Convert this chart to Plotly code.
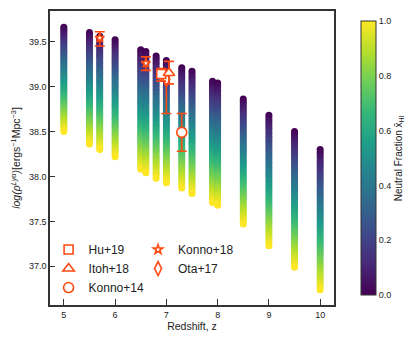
import numpy as np
import plotly.graph_objects as go

# ---- model columns ----
z_model = [5.0, 5.5, 5.7, 6.0, 6.5, 6.6, 6.8, 7.0, 7.3, 7.5, 7.9, 8.0, 8.5, 9.0, 9.5, 10.0]
logrho_xhi0 = [39.66, 39.60, 39.56, 39.52, 39.41, 39.39, 39.34, 39.29, 39.21, 39.17,
               39.06, 39.04, 38.86, 38.68, 38.50, 38.30]
logrho_xhi1 = [38.50, 38.36, 38.30, 38.22, 38.08, 38.04, 37.98, 37.93, 37.87, 37.81,
               37.71, 37.68, 37.47, 37.23, 36.99, 36.74]
xhi_grid = np.linspace(0.0, 1.0, 51)

# ---- observations ----
hu19_z = [6.9]; hu19_y = [39.14]; hu19_up = [0.06]; hu19_dn = [0.08]
itoh18_z = [7.05]; itoh18_y = [39.15]; itoh18_up = [0.13]; itoh18_dn = [0.12]
konno14_z = [7.3]; konno14_y = [38.49]; konno14_up = [0.21]; konno14_dn = [0.21]
konno18_z = [5.7, 6.6]; konno18_y = [39.54, 39.26]; konno18_up = [0.07, 0.07]; konno18_dn = [0.09, 0.08]
ota17_z = [7.0]; ota17_y = [39.08]; ota17_up = [0.10]; ota17_dn = [0.38]

x_ticks = [5, 6, 7, 8, 9, 10]
y_ticks = [37.0, 37.5, 38.0, 38.5, 39.0, 39.5]
cb_ticks = [0.0, 0.2, 0.4, 0.6, 0.8, 1.0]

OBS = "#ff4a12"
FONT = "Liberation Sans, Arial, sans-serif"

fig = go.Figure()

xs, ys, cs = [], [], []
for z, top, bot in zip(z_model, logrho_xhi0, logrho_xhi1):
    for x in xhi_grid:
        xs.append(z)
        ys.append(top + (bot - top) * x)
        cs.append(x)

fig.add_trace(go.Scatter(
    x=xs, y=ys, mode="markers", showlegend=False, hoverinfo="skip",
    marker=dict(size=7, color=cs, colorscale="Viridis", cmin=0, cmax=1,
                line=dict(width=0),
                colorbar=dict(
                    x=1.06, xanchor="left", y=0.5, yanchor="middle", len=1.0,
                    thickness=15, outlinewidth=1, outlinecolor="#333",
                    tickvals=cb_ticks, ticktext=[f"{v:.1f}" for v in cb_ticks],
                    ticks="", tickfont=dict(size=9, color="#222", family=FONT),
                )),
))

def obs(name, z, y, up, dn, symbol, size, legend):
    fig.add_trace(go.Scatter(
        x=z, y=y, mode="markers", name=name, legend=legend, legendgroup=name,
        marker=dict(symbol=symbol, size=size, color="white",
                    line=dict(color=OBS, width=1.6)),
        error_y=dict(type="data", array=up, arrayminus=dn, color=OBS,
                     thickness=1.6, width=5),
    ))

obs("Konno+18", konno18_z, konno18_y, konno18_up, konno18_dn, "star", 7, "legend2")
obs("Ota+17", ota17_z, ota17_y, ota17_up, ota17_dn, "diamond-tall", 10, "legend2")
obs("Hu+19", hu19_z, hu19_y, hu19_up, hu19_dn, "square", 9, "legend")
obs("Itoh+18", itoh18_z, itoh18_y, itoh18_up, itoh18_dn, "triangle-up", 10, "legend")
obs("Konno+14", konno14_z, konno14_y, konno14_up, konno14_dn, "circle", 10, "legend")

axis_common = dict(showline=True, linecolor="#333", linewidth=1.5, mirror=True,
                   showgrid=False, zeroline=False, ticks="inside", tickcolor="#333",
                   tickwidth=1, tickfont=dict(size=9, color="#222", family=FONT))

leg_common = dict(xanchor="left", yanchor="top", bgcolor="rgba(0,0,0,0)",
                  font=dict(size=12, family=FONT, color="#222"), tracegroupgap=1.5,
                  traceorder="normal")

fig.update_layout(
    width=407, height=340,
    margin=dict(l=50, r=73, t=11, b=35, autoexpand=False),
    plot_bgcolor="white", paper_bgcolor="white",
    font=dict(family=FONT, color="#222"),
    xaxis=dict(range=[4.73, 10.27], tickvals=x_ticks, ticklen=6,
               title=dict(text="Redshift, z", font=dict(size=10.5), standoff=3),
               **axis_common),
    yaxis=dict(range=[36.57, 39.84], tickvals=y_ticks, ticktext=[f"{v:.1f}" for v in y_ticks],
               ticklen=5,
               title=dict(text="<i>log(ρ<sup>Lyα</sup>)</i>[ergs<sup>−1</sup>Mpc<sup>−3</sup>]",
                          font=dict(size=10.5), standoff=6),
               **axis_common),
    legend=dict(x=-0.005, y=0.238, **leg_common),
    legend2=dict(x=0.31, y=0.238, **leg_common),
    annotations=[dict(text="Neutral Fraction x\u0304<sub>HI</sub>", textangle=-90,
                      xref="paper", yref="paper", x=1.23, y=0.5, xanchor="center",
                      yanchor="middle", showarrow=False,
                      font=dict(size=10, family=FONT, color="#222"))],
)

fig.write_html("out.html", config={"displayModeBar": False},
               post_script="document.body.style.margin='0';document.body.style.padding='0';")
